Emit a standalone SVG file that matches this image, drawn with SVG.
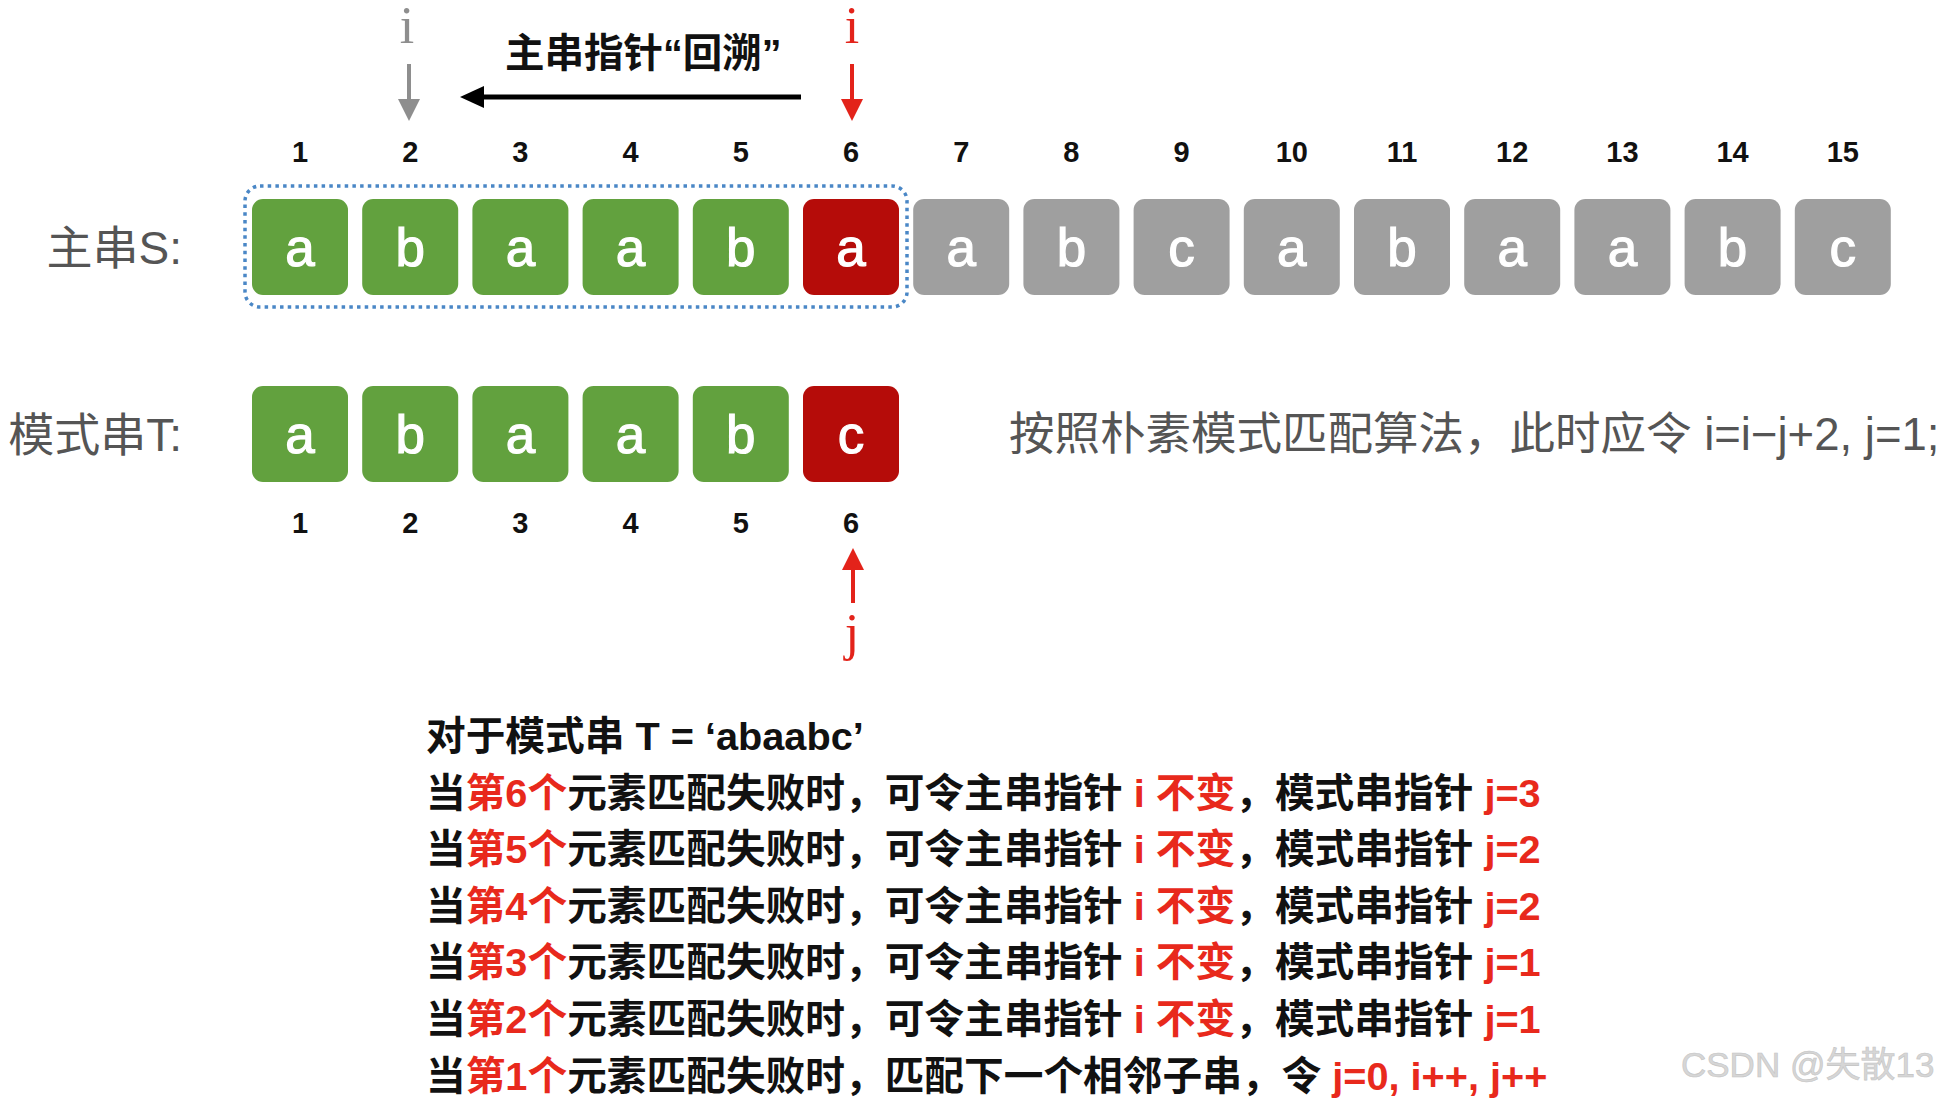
<svg xmlns="http://www.w3.org/2000/svg" width="1944" height="1098" viewBox="0 0 1944 1098">
<style>
.bx{stroke:none}
.g{fill:#62a13e}
.rd{fill:#b50c09}
.gy{fill:#9f9f9f}
.ch{font-family:"Liberation Sans",Arial,sans-serif;font-size:53px;fill:#ffffff;stroke:#ffffff;stroke-width:1.2;text-anchor:middle}
.num{font-family:"Liberation Sans",Arial,sans-serif;font-size:29px;font-weight:bold;fill:#111;text-anchor:middle}
.lbl{font-family:"Liberation Sans","Noto Sans CJK SC",sans-serif;font-size:46px;fill:#555555}
.ptr{font-family:"Liberation Serif","Times New Roman",serif;font-size:52px;text-anchor:middle}
.blk{font-family:"Liberation Sans","Noto Sans CJK SC",sans-serif;font-size:39.7px;font-weight:bold;fill:#111}
.r{fill:#e8291c}
.wm{font-family:"Liberation Sans","Noto Sans CJK SC",sans-serif;font-size:35px;fill:#d6d6d6;stroke:#c4c4c4;stroke-width:0.6}
</style>
<defs>
<marker id="hg" viewBox="0 0 22 22" markerWidth="22" markerHeight="22" refX="1" refY="11" orient="auto" markerUnits="userSpaceOnUse"><path d="M0,0 L22,11 L0,22 z" fill="#8e8e8e"/></marker>
<marker id="hr" viewBox="0 0 22 22" markerWidth="22" markerHeight="22" refX="1" refY="11" orient="auto" markerUnits="userSpaceOnUse"><path d="M0,0 L22,11 L0,22 z" fill="#e3231a"/></marker>
<marker id="hb" viewBox="0 0 24 22" markerWidth="24" markerHeight="22" refX="1" refY="11" orient="auto" markerUnits="userSpaceOnUse"><path d="M0,0 L24,11 L0,22 z" fill="#000"/></marker>
</defs>
<rect width="1944" height="1098" fill="#ffffff"/>

<g id="labels">
<text class="lbl" x="182" y="264" text-anchor="end">主串S:</text>
<text class="lbl" x="182" y="451" text-anchor="end">模式串T:</text>
</g>

<g id="s-numbers">
<text class="num" x="300" y="162">1</text>
<text class="num" x="410.2" y="162">2</text>
<text class="num" x="520.4" y="162">3</text>
<text class="num" x="630.6" y="162">4</text>
<text class="num" x="740.8" y="162">5</text>
<text class="num" x="851" y="162">6</text>
<text class="num" x="961.2" y="162">7</text>
<text class="num" x="1071.4" y="162">8</text>
<text class="num" x="1181.6" y="162">9</text>
<text class="num" x="1291.8" y="162">10</text>
<text class="num" x="1402" y="162">11</text>
<text class="num" x="1512.2" y="162">12</text>
<text class="num" x="1622.4" y="162">13</text>
<text class="num" x="1732.6" y="162">14</text>
<text class="num" x="1842.8" y="162">15</text>
</g>

<g id="matched-region">
<rect x="245" y="186" width="662" height="121" rx="15" fill="none" stroke="#4a87c6" stroke-width="3.5" stroke-dasharray="3.5 4.2"/>
</g>

<g id="S1"><rect class="bx g" x="252" y="199" width="96" height="96" rx="11"/><text class="ch" x="300" y="266">a</text></g>
<g id="S2"><rect class="bx g" x="362.2" y="199" width="96" height="96" rx="11"/><text class="ch" x="410.2" y="266">b</text></g>
<g id="S3"><rect class="bx g" x="472.4" y="199" width="96" height="96" rx="11"/><text class="ch" x="520.4" y="266">a</text></g>
<g id="S4"><rect class="bx g" x="582.6" y="199" width="96" height="96" rx="11"/><text class="ch" x="630.6" y="266">a</text></g>
<g id="S5"><rect class="bx g" x="692.8" y="199" width="96" height="96" rx="11"/><text class="ch" x="740.8" y="266">b</text></g>
<g id="S6"><rect class="bx rd" x="803" y="199" width="96" height="96" rx="11"/><text class="ch" x="851" y="266">a</text></g>
<g id="S7"><rect class="bx gy" x="913.2" y="199" width="96" height="96" rx="11"/><text class="ch" x="961.2" y="266">a</text></g>
<g id="S8"><rect class="bx gy" x="1023.4" y="199" width="96" height="96" rx="11"/><text class="ch" x="1071.4" y="266">b</text></g>
<g id="S9"><rect class="bx gy" x="1133.6" y="199" width="96" height="96" rx="11"/><text class="ch" x="1181.6" y="266">c</text></g>
<g id="S10"><rect class="bx gy" x="1243.8" y="199" width="96" height="96" rx="11"/><text class="ch" x="1291.8" y="266">a</text></g>
<g id="S11"><rect class="bx gy" x="1354" y="199" width="96" height="96" rx="11"/><text class="ch" x="1402" y="266">b</text></g>
<g id="S12"><rect class="bx gy" x="1464.2" y="199" width="96" height="96" rx="11"/><text class="ch" x="1512.2" y="266">a</text></g>
<g id="S13"><rect class="bx gy" x="1574.4" y="199" width="96" height="96" rx="11"/><text class="ch" x="1622.4" y="266">a</text></g>
<g id="S14"><rect class="bx gy" x="1684.6" y="199" width="96" height="96" rx="11"/><text class="ch" x="1732.6" y="266">b</text></g>
<g id="S15"><rect class="bx gy" x="1794.8" y="199" width="96" height="96" rx="11"/><text class="ch" x="1842.8" y="266">c</text></g>

<g id="T1"><rect class="bx g" x="252" y="386" width="96" height="96" rx="11"/><text class="ch" x="300" y="453">a</text></g>
<g id="T2"><rect class="bx g" x="362.2" y="386" width="96" height="96" rx="11"/><text class="ch" x="410.2" y="453">b</text></g>
<g id="T3"><rect class="bx g" x="472.4" y="386" width="96" height="96" rx="11"/><text class="ch" x="520.4" y="453">a</text></g>
<g id="T4"><rect class="bx g" x="582.6" y="386" width="96" height="96" rx="11"/><text class="ch" x="630.6" y="453">a</text></g>
<g id="T5"><rect class="bx g" x="692.8" y="386" width="96" height="96" rx="11"/><text class="ch" x="740.8" y="453">b</text></g>
<g id="T6"><rect class="bx rd" x="803" y="386" width="96" height="96" rx="11"/><text class="ch" x="851" y="453">c</text></g>

<g id="t-numbers">
<text class="num" x="300" y="533">1</text>
<text class="num" x="410.2" y="533">2</text>
<text class="num" x="520.4" y="533">3</text>
<text class="num" x="630.6" y="533">4</text>
<text class="num" x="740.8" y="533">5</text>
<text class="num" x="851" y="533">6</text>
</g>

<g id="pointers">
<text class="ptr" x="407" y="43" fill="#8e8e8e">i</text>
<text class="ptr" x="852" y="43" fill="#e3231a">i</text>
<text class="ptr" x="852" y="650" fill="#e3231a">j</text>
<text class="blk" x="505" y="67" style="font-size:39.5px">主串指针“回溯”</text>
</g>

<g id="connectors">
<line x1="409" y1="64" x2="409" y2="100" stroke="#8e8e8e" stroke-width="4" marker-end="url(#hg)"/>
<line x1="852" y1="64" x2="852" y2="100" stroke="#e3231a" stroke-width="4" marker-end="url(#hr)"/>
<line x1="801" y1="97" x2="483" y2="97" stroke="#000" stroke-width="5" marker-end="url(#hb)"/>
<line x1="853" y1="603" x2="853" y2="569" stroke="#e3231a" stroke-width="4" marker-end="url(#hr)"/>
</g>

<g id="note">
<text class="lbl" x="1009" y="450" style="font-size:45.5px">按照朴素模式匹配算法，此时应令 i=i−j+2, j=1;</text>
</g>

<g id="explanation">
<text class="blk" x="426" y="750">对于模式串 T = ‘abaabc’</text>
<text class="blk" x="426" y="806.6">当<tspan class="r">第6个</tspan>元素匹配失败时，可令主串指针 <tspan class="r">i 不变</tspan>，模式串指针 <tspan class="r">j=3</tspan></text>
<text class="blk" x="426" y="863.2">当<tspan class="r">第5个</tspan>元素匹配失败时，可令主串指针 <tspan class="r">i 不变</tspan>，模式串指针 <tspan class="r">j=2</tspan></text>
<text class="blk" x="426" y="919.8">当<tspan class="r">第4个</tspan>元素匹配失败时，可令主串指针 <tspan class="r">i 不变</tspan>，模式串指针 <tspan class="r">j=2</tspan></text>
<text class="blk" x="426" y="976.4">当<tspan class="r">第3个</tspan>元素匹配失败时，可令主串指针 <tspan class="r">i 不变</tspan>，模式串指针 <tspan class="r">j=1</tspan></text>
<text class="blk" x="426" y="1033">当<tspan class="r">第2个</tspan>元素匹配失败时，可令主串指针 <tspan class="r">i 不变</tspan>，模式串指针 <tspan class="r">j=1</tspan></text>
<text class="blk" x="426" y="1089.6">当<tspan class="r">第1个</tspan>元素匹配失败时，匹配下一个相邻子串，令 <tspan class="r">j=0, i++, j++</tspan></text>
</g>

<text class="wm" x="1681" y="1077">CSDN @失散13</text>
</svg>
